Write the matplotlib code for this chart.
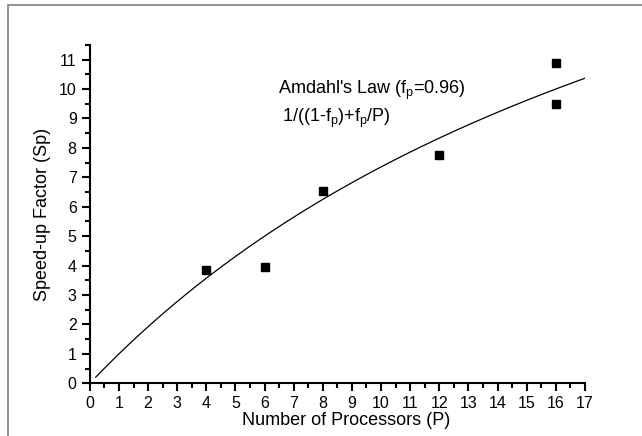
import numpy as np
import matplotlib.pyplot as plt
from matplotlib.ticker import MultipleLocator
from matplotlib.patches import Rectangle

plt.rcParams['font.family'] = ['Liberation Sans', 'DejaVu Sans']
plt.rcParams['mathtext.default'] = 'regular'

# measured speed-up
procs = [4, 6, 8, 12, 16, 16]
speedup = [3.85, 3.95, 6.55, 7.75, 10.9, 9.5]

# Amdahl's law curve
fp = 0.96
P = np.linspace(0.2, 17, 300)
S = 1 / ((1 - fp) + fp / P)

fig = plt.figure(figsize=(6.42, 4.36), dpi=100)
ax = fig.add_axes([0.140, 0.121, 0.771, 0.776])

# grey frame round the page (right/bottom run off the picture)
fig.patches.append(Rectangle((8 / 642, -0.1), 1.2, 1 - 5 / 436 + 0.1,
                             transform=fig.transFigure, fill=False,
                             edgecolor='#808080', linewidth=1.2))

ax.plot(P, S, color='black', linewidth=0.9)
ax.plot(procs, speedup, 's', color='black', markersize=5.5)

ax.set_xlim(0, 17)
ax.set_ylim(0, 11.5)
ax.xaxis.set_major_locator(MultipleLocator(1))
ax.xaxis.set_minor_locator(MultipleLocator(0.5))
ax.yaxis.set_major_locator(MultipleLocator(1))
ax.yaxis.set_minor_locator(MultipleLocator(0.5))

for s in ['top', 'right']:
    ax.spines[s].set_visible(False)
for s in ['left', 'bottom']:
    ax.spines[s].set_linewidth(1.5)
ax.tick_params(which='major', direction='out', length=6, width=1.5, labelsize=11.5)
ax.tick_params(which='minor', direction='out', length=3.5, width=1.5)

ax.set_xlabel('Number of Processors (P)', fontsize=13)
ax.xaxis.set_label_coords(0.517, -0.085)
ax.set_ylabel('Speed-up Factor (Sp)', fontsize=13, labelpad=6)

ax.text(6.45, 9.97, "Amdahl's Law (f$_p$=0.96)", fontsize=13, va='center')
ax.text(6.6, 9.0, "1/((1-f$_p$)+f$_p$/P)", fontsize=13, va='center')

fig.savefig('out.png', dpi=100)
